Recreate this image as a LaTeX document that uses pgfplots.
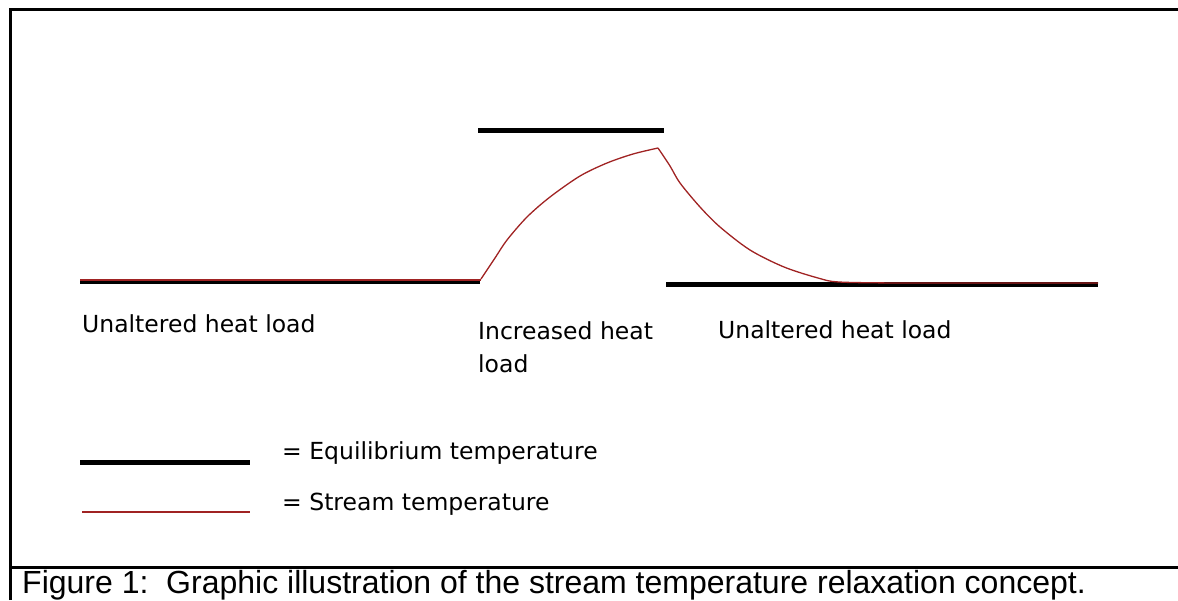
\documentclass[border=0pt]{standalone}
\usepackage{pgfplots}
\pgfplotsset{compat=1.18}
\usepackage{fontspec}
\setmainfont{DejaVu Sans}
\newfontfamily\capfont{Liberation Sans}
\definecolor{streamred}{RGB}{160,35,35}
\begin{document}
\begin{tikzpicture}
\begin{axis}[width=1178pt,height=600pt,scale only axis,
  xmin=0,xmax=1178,ymin=0,ymax=600,y dir=reverse,
  hide axis,clip=false]
\coordinate (tl) at (axis cs:0,0);
\coordinate (br) at (axis cs:1178,600);
% frame
\addplot[black,line width=3pt,line join=miter] coordinates {(10,600) (10,9) (1178,9)};
\addplot[black,line width=3pt] coordinates {(10,567) (1178,567)};
% equilibrium temperature
\addplot[black,line width=5pt] coordinates {(80,281) (480,281)};
\addplot[black,line width=5pt] coordinates {(478,130) (664,130)};
\addplot[black,line width=5pt] coordinates {(666,284) (1098,284)};
% stream temperature
\addplot[streamred,line width=1.3pt] coordinates {
 (80,280) (481,280)};
\addplot[streamred,line width=1.3pt,smooth,tension=0.5] coordinates {
 (481,279) (495,258) (507,240) (527,217) (550,197) (580,176) (607,163) (633,154) (658,148)};
\addplot[streamred,line width=1.3pt,smooth,tension=0.5] coordinates {
 (658,148) (670,166) (680,183) (700,207) (720,227) (750,250) (784,267) (818,278) (839,282) (900,283) (1000,283) (1098,283)};
% legend lines
\addplot[black,line width=5pt] coordinates {(80,462) (250,462)};
\addplot[streamred,line width=1.3pt] coordinates {(82,512) (250,512)};
% texts
\node[anchor=base west,inner sep=0pt,font=\fontsize{23.5}{28}\selectfont] at (axis cs:82,332) {Unaltered heat load};
\node[anchor=base west,inner sep=0pt,font=\fontsize{23.5}{28}\selectfont] at (axis cs:478,339) {Increased heat};
\node[anchor=base west,inner sep=0pt,font=\fontsize{23.5}{28}\selectfont] at (axis cs:478,372) {load};
\node[anchor=base west,inner sep=0pt,font=\fontsize{23.5}{28}\selectfont] at (axis cs:718,338) {Unaltered heat load};
\node[anchor=base west,inner sep=0pt,font=\fontsize{23.5}{28}\selectfont] at (axis cs:282,459) {= Equilibrium temperature};
\node[anchor=base west,inner sep=0pt,font=\fontsize{23.5}{28}\selectfont] at (axis cs:282,510) {= Stream temperature};
\node[anchor=base west,inner sep=0pt,font=\capfont\fontsize{32}{36}\selectfont] at (axis cs:22,593) {Figure 1:\ \ Graphic illustration of the stream temperature relaxation concept.};
\end{axis}
\pgfresetboundingbox
\path[use as bounding box] (tl) rectangle (br);
\end{tikzpicture}
\end{document}
